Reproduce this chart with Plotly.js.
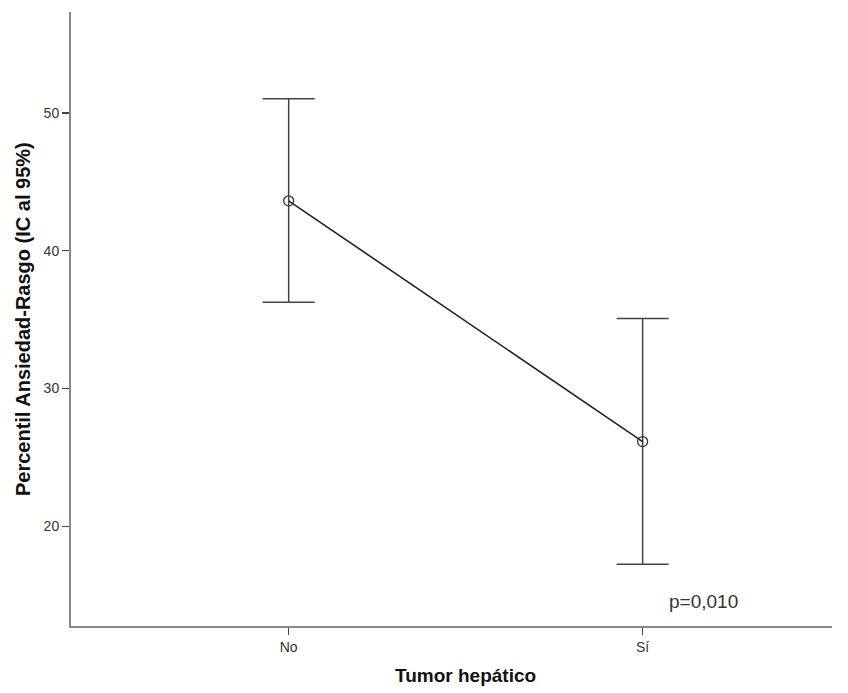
<!DOCTYPE html>
<html>
<head>
<meta charset="utf-8">
<script src="https://cdn.plot.ly/plotly-3.0.1.min.js"></script>
<style>html,body{margin:0;padding:0;background:#fff;}#chart{width:848px;height:693px;}</style>
</head>
<body>
<div id="chart"></div>
<script>
const categories = ["No", "Sí"];
const means = [43.61, 26.15];
const upperCI = [51.02, 35.08];
const lowerCI = [36.26, 17.25];
const yTicks = [20, 30, 40, 50];
const pLabel = "p=0,010";
const xTitle = "Tumor hepático";
const yTitle = "Percentil Ansiedad-Rasgo (IC al 95%)";

const FONT = "Liberation Sans, Arial, sans-serif";
const idx = categories.map((c, i) => i);
const trace = {
  x: idx,
  y: means,
  type: "scatter",
  mode: "lines+markers",
  line: {color: "#222222", width: 1.6},
  marker: {symbol: "circle-open", size: 10, color: "#333333", line: {width: 1.3}},
  error_y: {
    type: "data",
    symmetric: false,
    array: upperCI.map((u, i) => u - means[i]),
    arrayminus: means.map((m, i) => m - lowerCI[i]),
    color: "#444444",
    thickness: 1.5,
    width: 26
  },
  hoverinfo: "none"
};

const layout = {
  width: 848, height: 693,
  margin: {l: 71, r: 16, t: 12, b: 67},
  paper_bgcolor: "#ffffff", plot_bgcolor: "#ffffff",
  showlegend: false,
  font: {family: FONT, color: "#333333"},
  xaxis: {
    range: [-0.615, 1.535],
    tickvals: idx, ticktext: categories,
    showgrid: false, zeroline: false,
    showline: true, linecolor: "#888888", linewidth: 2,
    ticks: "outside", ticklen: 7, tickcolor: "#444444", tickwidth: 1.5,
    tickfont: {size: 14, color: "#333333"}
  },
  yaxis: {
    range: [12.77, 57.31],
    tickvals: yTicks,
    showgrid: false, zeroline: false,
    showline: true, linecolor: "#888888", linewidth: 2,
    ticks: "outside", ticklen: 7, tickcolor: "#444444", tickwidth: 1.5,
    tickfont: {size: 14, color: "#333333"}
  },
  annotations: [
    {
      xref: "paper", yref: "y", x: 0.783, y: 14.56,
      xanchor: "left", yanchor: "middle",
      text: pLabel, showarrow: false,
      font: {size: 19, color: "#333333", family: FONT}
    },
    {
      xref: "paper", yref: "paper", x: 0.519, y: -0.0814,
      xanchor: "center", yanchor: "middle",
      text: xTitle, showarrow: false,
      font: {size: 19, color: "#111111", family: FONT, weight: "bold"}
    },
    {
      xref: "paper", yref: "paper", x: -0.063, y: 0.5,
      xanchor: "center", yanchor: "middle", textangle: -90,
      text: yTitle, showarrow: false,
      font: {size: 20, color: "#111111", family: FONT, weight: "bold"}
    }
  ]
};

Plotly.newPlot("chart", [trace], layout, {displayModeBar: false, staticPlot: true});
</script>
</body>
</html>
